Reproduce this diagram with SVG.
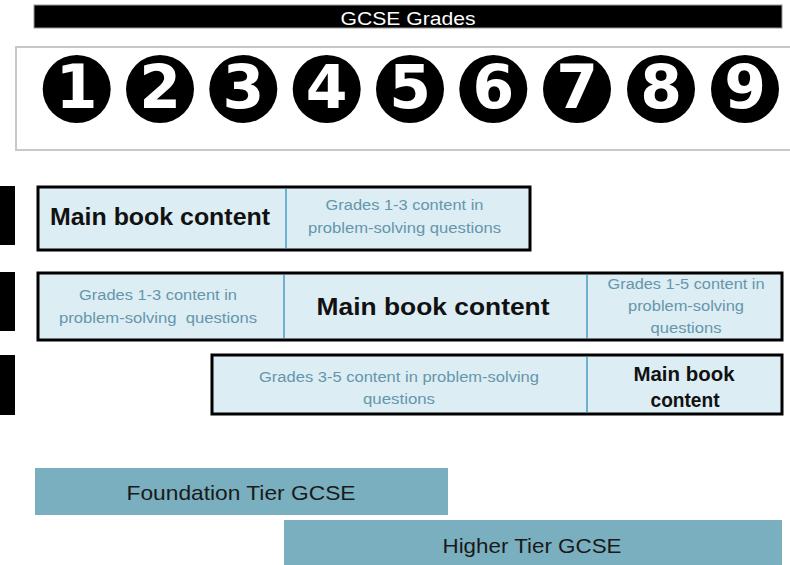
<svg xmlns="http://www.w3.org/2000/svg" width="790" height="565" viewBox="0 0 790 565">
<style>
.bar{fill:#000}
.row{fill:#dcedf4;stroke:#000;stroke-width:3}
.div{stroke:#4d9cc6;stroke-width:1.5}
.main{font-family:"Liberation Sans",Arial,sans-serif;font-weight:bold;fill:#111;text-anchor:middle}
.small{font-family:"Liberation Sans",Arial,sans-serif;font-size:15.5px;fill:#6596ab;text-anchor:middle}
.dig{font-family:"DejaVu Sans",sans-serif;font-weight:bold;font-size:60px;fill:#fff;text-anchor:middle}
.tier{fill:#7aafbf}
.tiert{font-family:"Liberation Sans",Arial,sans-serif;font-size:21px;fill:#1a1a1a;text-anchor:middle}
</style>
<rect width="790" height="565" fill="#fff"/>
<g id="header">
<rect x="34" y="5" width="748" height="23" fill="#000" stroke="#999" stroke-width="1"/>
<text x="408" y="25" font-family="Liberation Sans,Arial,sans-serif" font-size="18" fill="#fff" text-anchor="middle" textLength="135" lengthAdjust="spacingAndGlyphs">GCSE Grades</text>
</g>
<g id="grades">
<rect x="16" y="47" width="780" height="103" fill="#fff" stroke="#c8c8c8" stroke-width="2"/>
<g fill="#000">
<circle cx="76.7" cy="89" r="34"/><circle cx="160" cy="89" r="34"/><circle cx="243.3" cy="89" r="34"/>
<circle cx="326.7" cy="89" r="34"/><circle cx="410" cy="89" r="34"/><circle cx="493.3" cy="89" r="34"/>
<circle cx="577" cy="89" r="34"/><circle cx="661" cy="89" r="34"/><circle cx="745" cy="89" r="34"/>
</g>
<text class="dig" x="76.7" y="108">1</text><text class="dig" x="160" y="108">2</text><text class="dig" x="243.3" y="108">3</text>
<text class="dig" x="326.7" y="108">4</text><text class="dig" x="410" y="108">5</text><text class="dig" x="493.3" y="108">6</text>
<text class="dig" x="577" y="108">7</text><text class="dig" x="661" y="108">8</text><text class="dig" x="745" y="108">9</text>
</g>
<g id="sidebars">
<rect class="bar" x="0" y="186" width="15" height="59"/>
<rect class="bar" x="0" y="272" width="15" height="59"/>
<rect class="bar" x="0" y="355" width="15" height="60"/>
</g>
<g id="row1">
<rect class="row" x="38" y="187" width="492" height="63"/>
<line class="div" x1="286" y1="189" x2="286" y2="248"/>
<text class="main" x="160" y="225" font-size="23" textLength="220" lengthAdjust="spacingAndGlyphs">Main book content</text>
<text class="small" x="404.5" y="210" textLength="158" lengthAdjust="spacingAndGlyphs">Grades 1-3 content in</text>
<text class="small" x="404.5" y="233" textLength="193" lengthAdjust="spacingAndGlyphs">problem-solving questions</text>
</g>
<g id="row2">
<rect class="row" x="38" y="273" width="744" height="67"/>
<line class="div" x1="284" y1="275" x2="284" y2="338"/>
<line class="div" x1="587" y1="275" x2="587" y2="338"/>
<text class="small" x="158" y="300" textLength="158" lengthAdjust="spacingAndGlyphs">Grades 1-3 content in</text>
<text class="small" x="158" y="323" textLength="198" lengthAdjust="spacingAndGlyphs" xml:space="preserve">problem-solving  questions</text>
<text class="main" x="433" y="315" font-size="24" textLength="233" lengthAdjust="spacingAndGlyphs">Main book content</text>
<text class="small" x="686" y="289" textLength="157" lengthAdjust="spacingAndGlyphs">Grades 1-5 content in</text>
<text class="small" x="686" y="311" textLength="116" lengthAdjust="spacingAndGlyphs">problem-solving</text>
<text class="small" x="686" y="333" textLength="71" lengthAdjust="spacingAndGlyphs">questions</text>
</g>
<g id="row3">
<rect class="row" x="212" y="355" width="570" height="59"/>
<line class="div" x1="587" y1="357" x2="587" y2="412"/>
<text class="small" x="399" y="382" textLength="280" lengthAdjust="spacingAndGlyphs">Grades 3-5 content in problem-solving</text>
<text class="small" x="399" y="404" textLength="72" lengthAdjust="spacingAndGlyphs">questions</text>
<text class="main" x="684" y="381" font-size="21" textLength="101" lengthAdjust="spacingAndGlyphs">Main book</text>
<text class="main" x="685" y="407" font-size="21" textLength="69" lengthAdjust="spacingAndGlyphs">content</text>
</g>
<g id="foundation">
<rect class="tier" x="35" y="468" width="413" height="47"/>
<text class="tiert" x="241" y="500" textLength="229" lengthAdjust="spacingAndGlyphs">Foundation Tier GCSE</text>
</g>
<g id="higher">
<rect class="tier" x="284" y="520" width="498" height="45"/>
<text class="tiert" x="532" y="553" textLength="179" lengthAdjust="spacingAndGlyphs">Higher Tier GCSE</text>
</g>
</svg>
